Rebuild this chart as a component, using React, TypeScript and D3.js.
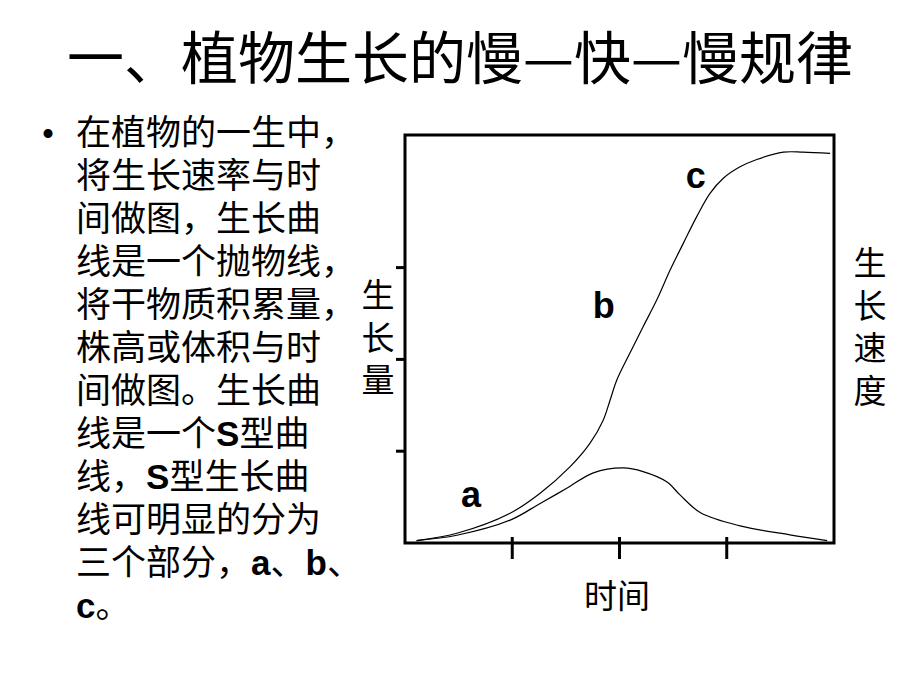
import React from 'react';
import * as d3 from 'd3';

// 一、植物生长的慢—快—慢规律
const title = '一、植物生长的慢—快—慢规律';

const bodyLines = [
  '在植物的一生中，',
  '将生长速率与时',
  '间做图，生长曲',
  '线是一个抛物线，',
  '将干物质积累量，',
  '株高或体积与时',
  '间做图。生长曲',
  '线是一个S型曲',
  '线，S型生长曲',
  '线可明显的分为',
  '三个部分，a、b、',
  'c。',
];

// S curve (生长量), in 0..100 units on both axes
const growthTime = [2.7, 12.1, 24.5, 31.5, 38.5, 43.1, 46.2, 47.8, 49.4, 52.4, 55.5, 58.7, 61.8, 64.9, 68.0, 71.1, 74.2, 78.1, 82.0, 88.2, 92.8, 99.1];
const growthAmount = [0.6, 2.4, 7.3, 12.2, 18.7, 24.4, 30.1, 35.0, 40.0, 46.5, 53.0, 59.6, 66.9, 73.5, 80.0, 85.7, 89.4, 92.2, 94.0, 95.8, 95.8, 95.5];

// bell curve (生长速度)
const rateTime = [2.7, 12.1, 24.5, 31.5, 37.7, 43.9, 50.9, 55.5, 61.0, 64.1, 68.9, 78.1, 89.7, 98.4];
const rateValue = [0.6, 1.9, 5.6, 9.7, 13.4, 17.2, 18.4, 17.5, 15.0, 11.8, 7.4, 4.2, 2.0, 0.6];

const xTicks = [25, 50, 75];
const yTicks = [22.5, 45, 67.5];

const phaseLabels = ['a', 'b', 'c'];
const phaseX = [15.4, 46.3, 67.8];
const phaseY = [8.8, 55.1, 87.0];

const leftLabel = '生长量';
const rightLabel = '生长速度';
const bottomLabel = '时间';

const CJK = '"Noto Sans CJK SC", "Noto Sans", sans-serif';
const LATIN = '"Liberation Sans", Arial, sans-serif';

function runs(s: string) {
  return s.split(/([A-Za-z]+)/).filter(Boolean).map((t) => ({ t, latin: /^[A-Za-z]+$/.test(t) }));
}

export default function App() {
  const x = d3.scaleLinear().domain([0, 100]).range([405, 834]);
  const y = d3.scaleLinear().domain([0, 100]).range([543, 135]);

  const line = d3
    .line<number>()
    .x((d) => x(d))
    .curve(d3.curveCatmullRom.alpha(0.5));

  const growthPath = line.y((d, i) => y(growthAmount[i]))(growthTime);
  const ratePath = line.y((d, i) => y(rateValue[i]))(rateTime);

  const [x0, x1] = x.range();
  const [y0, y1] = y.range();

  return (
    <svg width={920} height={690} style={{ position: 'absolute', left: 0, top: 0, background: '#fff' }}>
      <rect width={920} height={690} fill="#fff" />
      <text x={460} y={79} textAnchor="middle" fontFamily={CJK} fontSize={57} fontWeight={400} fill="#000">
        {title}
      </text>

      <text x={48} y={145} textAnchor="middle" fontFamily={LATIN} fontSize={33} fill="#000">•</text>
      <text x={76} y={145} fontSize={35} fill="#000" fontFamily={CJK}>
        {bodyLines.map((l, i) => (
          <tspan key={i} x={76} dy={i === 0 ? 0 : 43}>
            {runs(l).map((r, j) => (
              <tspan key={j} fontFamily={r.latin ? LATIN : CJK} fontWeight={r.latin ? 700 : 400}>
                {r.t}
              </tspan>
            ))}
          </tspan>
        ))}
      </text>

      {/* frame */}
      <rect x={x0} y={y1} width={x1 - x0} height={y0 - y1} fill="none" stroke="#000" strokeWidth={3} />
      {yTicks.map((t) => (
        <line key={t} x1={x0 - 9} x2={x0} y1={y(t)} y2={y(t)} stroke="#000" strokeWidth={3} />
      ))}
      {xTicks.map((t) => (
        <line key={t} x1={x(t)} x2={x(t)} y1={y0 - 6} y2={y0 + 16} stroke="#000" strokeWidth={3} />
      ))}

      <path d={growthPath || ''} fill="none" stroke="#000" strokeWidth={1.2} />
      <path d={ratePath || ''} fill="none" stroke="#000" strokeWidth={1.2} />

      {phaseLabels.map((p, i) => (
        <text key={p} x={x(phaseX[i])} y={y(phaseY[i])} textAnchor="middle" fontFamily={LATIN} fontWeight={700} fontSize={36} fill="#000">
          {p}
        </text>
      ))}

      <text x={378} y={278} fontFamily={CJK} fontSize={33} fill="#000"
        style={{ writingMode: 'vertical-rl', letterSpacing: '9.5px' }}>
        {leftLabel}
      </text>
      <text x={870} y={246} fontFamily={CJK} fontSize={33} fill="#000"
        style={{ writingMode: 'vertical-rl', letterSpacing: '9.7px' }}>
        {rightLabel}
      </text>
      <text x={617} y={595 + 12.5} textAnchor="middle" fontFamily={CJK} fontSize={33} fill="#000">
        {bottomLabel}
      </text>
    </svg>
  );
}
